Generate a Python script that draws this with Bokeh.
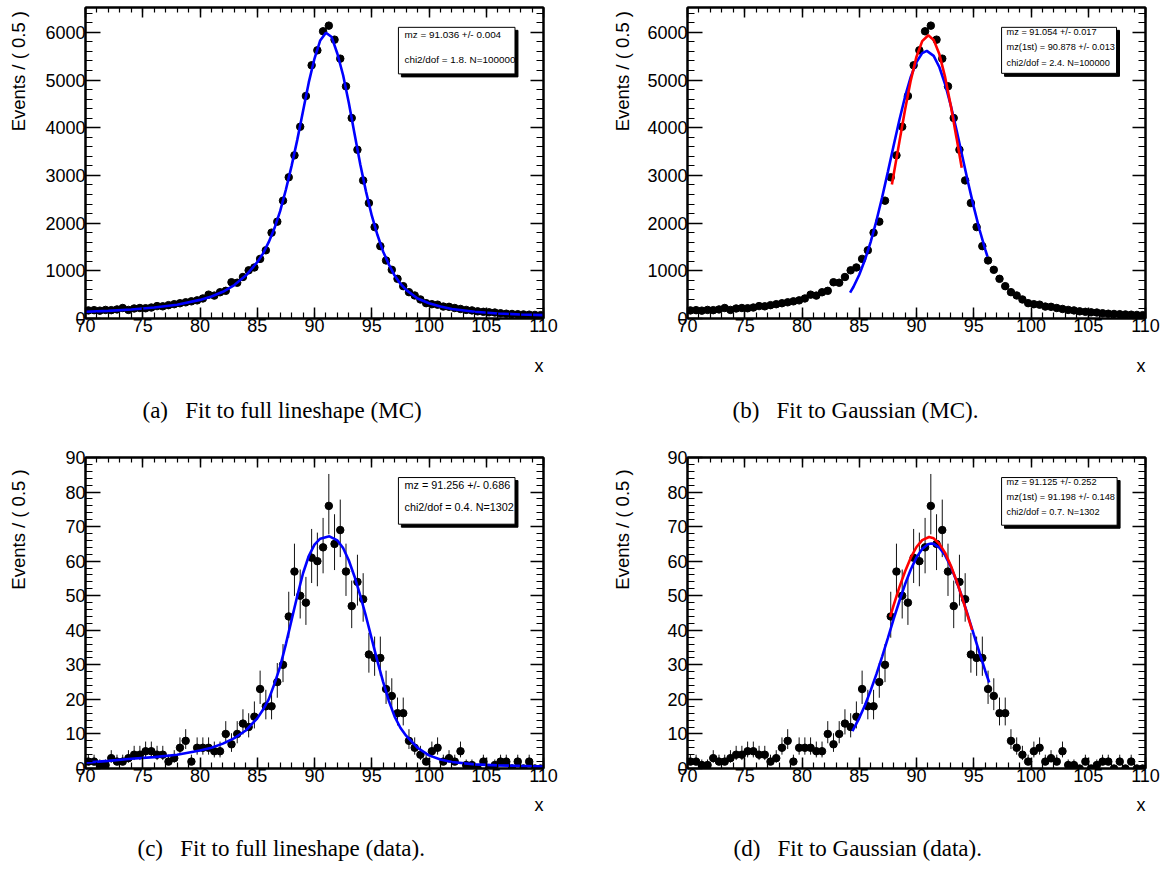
import math
import numpy as np
from bokeh.plotting import figure
from bokeh.models import Range1d, FixedTicker, LinearAxis, Title, CustomLabelingPolicy
from bokeh.layouts import column, row
from bokeh.embed import file_html
from bokeh.resources import INLINE
from bokeh.core.properties import value

# ---------------- data ----------------
bin_centers = [70.25 + 0.5 * i for i in range(80)]

mc_counts = [170, 175, 165, 180, 175, 190, 220, 180, 210, 220,
             215, 230, 260, 255, 280, 300, 320, 340, 360, 380,
             420, 500, 480, 550, 580, 760, 750, 870, 1010, 1070,
             1250, 1430, 1800, 2030, 2470, 2960, 3420, 4020, 4664, 5308,
             5622, 6021, 6140, 5846, 5448, 4867, 4203, 3538, 2895, 2420,
             1916, 1517, 1217, 1021, 832, 678, 552, 483, 399, 322,
             300, 290, 250, 245, 220, 200, 180, 170, 150, 140,
             130, 125, 110, 100, 95, 90, 85, 80, 75, 70]

data_counts = [2, 2, 1, 1, 3, 2, 2, 3, 4, 4,
               5, 5, 4, 4, 2, 3, 6, 8, 2, 6,
               6, 6, 5, 5, 10, 7, 10, 13, 12, 15,
               23, 18, 18, 25, 30, 44, 57, 50, 48, 61,
               60, 64, 76, 65, 69, 57, 47, 54, 49, 33,
               32, 32, 23, 21, 16, 16, 8, 6, 4, 2,
               5, 6, 2, 3, 2, 5, 1, 1, 0, 2,
               0, 1, 2, 2, 0, 2, 0, 2, 0, 0]

# full lineshape fit (MC)
fullfit_mc_x = [70, 72, 74, 76, 78, 80, 81, 82, 83, 84, 85, 85.5, 86, 86.5, 87, 87.5, 88, 88.5,
                89, 89.5, 90, 90.5, 91, 91.5, 92, 92.5, 93, 93.5, 94, 94.5, 95, 95.5, 96,
                96.5, 97, 97.5, 98, 99, 100, 101, 102, 104, 106, 108, 110]
fullfit_mc_y = [140, 160, 190, 230, 290, 390, 460, 560, 700, 900, 1180, 1360, 1600, 1890, 2250,
                2700, 3200, 3750, 4350, 4950, 5450, 5830, 5990, 5900, 5550, 5100, 4520, 3870,
                3230, 2660, 2160, 1750, 1400, 1130, 900, 730, 600, 420, 320, 250, 200, 140,
                105, 85, 70]

# gaussian fit, wide range (MC)
gaus_mc_x = [84.2, 84.5, 85, 85.5, 86, 86.5, 87, 87.5, 88, 88.5, 89, 89.5, 90, 90.5, 90.9,
             91.5, 92, 92.5, 93, 93.5, 94, 94.5, 95, 95.5, 96, 96.2]
gaus_mc_y = [542, 666, 917, 1231, 1608, 2049, 2543, 3074, 3622, 4157, 4650, 5066, 5378, 5563,
             5610, 5506, 5268, 4911, 4460, 3947, 3403, 2858, 2340, 1866, 1450, 1297]

# gaussian fit, first (narrow) range (MC)
gaus1_mc_x = [87.85, 88, 88.5, 89, 89.5, 90, 90.5, 91.03, 91.5, 92, 92.5, 93, 93.5, 93.95]
gaus1_mc_y = [2810, 3011, 3698, 4377, 4993, 5489, 5815, 5937, 5841, 5538, 5060, 4456, 3781, 3159]

# full lineshape fit (data)
fullfit_data_x = [70, 72, 74, 76, 78, 80, 81, 82, 83, 84, 85, 85.5, 86, 86.5, 87, 87.5, 88,
                  88.5, 89, 89.5, 90, 90.5, 91.3, 92, 92.5, 93, 93.5, 94, 94.5, 95, 95.5, 96,
                  96.5, 97, 97.5, 98, 99, 100, 101, 102, 104, 106, 110]
fullfit_data_y = [1.7, 2.2, 2.8, 3.3, 4.0, 5.2, 6.0, 7.2, 8.8, 11.0, 14.5, 17, 20, 24.5, 29.5,
                  36, 43, 50, 56.5, 61.5, 64.8, 66.5, 67.2, 66, 63.8, 60.2, 55.5, 50, 44, 37.5,
                  31, 25, 19.5, 15, 11.8, 9.5, 6, 3.8, 2.6, 1.9, 1.2, 0.9, 0.6]

# gaussian fit, wide range (data)
gaus_data_x = [84.4, 85, 85.5, 86, 86.5, 87, 87.5, 88, 88.5, 89, 89.5, 90, 90.5, 91, 91.3,
               91.5, 92, 92.5, 93, 93.5, 94, 94.5, 95, 95.5, 96, 96.35]
gaus_data_y = [10.8, 14.6, 18.3, 22.6, 27.3, 32.4, 37.7, 43.2, 48.4, 53.3, 57.6, 61.1, 63.5,
               64.9, 65.1, 65.0, 63.9, 61.7, 58.4, 54.2, 49.4, 44.2, 38.8, 33.5, 28.3, 24.9]

# gaussian fit, first range (data)
gaus1_data_x = [87.7, 88, 88.5, 89, 89.5, 90, 90.5, 91.1, 91.5, 92, 92.5, 93, 93.5, 94, 94.5, 94.85]
gaus1_data_y = [43.9, 47.2, 52.4, 57.0, 61.0, 64.1, 66.1, 67.0, 66.6, 65.0, 62.4, 58.7, 54.3,
                49.3, 43.9, 40.1]

stats_a = ["mz = 91.036 +/- 0.004", "chi2/dof = 1.8. N=100000"]
stats_b = ["mz = 91.054 +/- 0.017", "mz(1st) = 90.878 +/- 0.013", "chi2/dof = 2.4. N=100000"]
stats_c = ["mz = 91.256 +/- 0.686", "chi2/dof = 0.4. N=1302"]
stats_d = ["mz = 91.125 +/- 0.252", "mz(1st) = 91.198 +/- 0.148", "chi2/dof = 0.7. N=1302"]

captions = ["(a)\u00a0\u00a0\u00a0Fit to full lineshape (MC)",
            "(b)\u00a0\u00a0\u00a0Fit to Gaussian (MC).",
            "(c)\u00a0\u00a0\u00a0Fit to full lineshape (data).",
            "(d)\u00a0\u00a0\u00a0Fit to Gaussian (data)."]

y_title = "Events / ( 0.5 )"
x_title = "x"

SANS = "Liberation Sans"
SERIF = "Liberation Serif"

HIDE_JS = """
for (let i = 0; i < indices.size; i++) {
  if (typeof indices.unset === "function") { indices.unset(i) } else { indices.set(i, false) }
}
return indices
"""


def poisson_band(counts):
    n = np.asarray(counts, dtype=float)
    lo = n - (np.sqrt(n + 0.25) - 0.5)
    hi = n + (np.sqrt(n + 0.25) + 0.5)
    lo = np.where(n == 0, 0.0, lo)
    return lo.tolist(), hi.tolist()


def style_axis(ax, tick_in, minor_in, labels=True):
    ax.axis_line_width = 2
    ax.axis_line_color = "black"
    ax.major_tick_in = tick_in
    ax.major_tick_out = 0
    ax.minor_tick_in = minor_in
    ax.minor_tick_out = 0
    ax.major_tick_line_width = 1.5
    ax.minor_tick_line_width = 1.2
    ax.major_tick_line_color = "black"
    ax.minor_tick_line_color = "black"
    if labels:
        ax.major_label_text_font = SANS
        ax.major_label_text_font_size = "18px"
        ax.major_label_text_color = "black"
    else:
        ax.major_label_text_font_size = "0px"
        ax.major_label_standoff = 0
        ax.major_label_policy = CustomLabelingPolicy(code=HIDE_JS)


def title_strip(width, height, x_frac, top_px):
    """Narrow blank strip holding the top-aligned vertical y title (ROOT style)."""
    t = figure(width=width, height=height, x_range=Range1d(0, 1), y_range=Range1d(0, height),
               output_backend="svg", toolbar_location=None,
               x_axis_location=None, y_axis_location=None,
               min_border=0, min_border_left=0, min_border_right=0,
               min_border_top=0, min_border_bottom=0)
    t.xgrid.visible = False
    t.ygrid.visible = False
    t.grid.grid_line_color = None
    t.outline_line_color = None
    t.background_fill_color = "white"
    t.border_fill_color = "white"
    t.text(x=[x_frac], y=[height - top_px], text=[y_title], angle=math.pi / 2,
           text_align="right", text_baseline="middle", text_font=value(SANS),
           text_font_size=value("18.5px"), text_color="black")
    return t


def make_panel(width, height, ymax, yticks, yminor, counts, curves, box, stats, stat_size,
               caption, cap_offset, borders, x_standoff, cap_standoff):
    bl, br, bt, bb = borders
    p = figure(width=width, height=height, x_range=Range1d(70, 110), y_range=Range1d(0, ymax),
               output_backend="svg", toolbar_location=None,
               min_border_left=bl, min_border_right=br, min_border_top=bt, min_border_bottom=bb)
    p.xgrid.visible = False
    p.ygrid.visible = False
    p.background_fill_color = "white"
    p.border_fill_color = "white"
    p.outline_line_color = "black"
    p.outline_line_width = 2
    p.outline_line_alpha = 1.0

    xt = FixedTicker(ticks=list(range(70, 111, 5)), minor_ticks=list(range(70, 111, 1)))
    yt = FixedTicker(ticks=yticks, minor_ticks=yminor)

    xa = p.xaxis[0]
    xa.ticker = xt
    style_axis(xa, 11, 6)
    xa.major_label_standoff = 0
    ya = p.yaxis[0]
    ya.ticker = yt
    style_axis(ya, 15, 7)
    ya.major_label_standoff = 0

    top = LinearAxis(ticker=xt)
    style_axis(top, 10, 5, labels=False)
    p.add_layout(top, "above")
    rgt = LinearAxis(ticker=yt)
    style_axis(rgt, 13, 7, labels=False)
    p.add_layout(rgt, "right")

    # x title (right aligned)
    p.add_layout(Title(text=x_title, align="right", text_font=SANS, text_font_size="18px",
                       text_font_style="normal", text_color="black",
                       standoff=x_standoff), "below")
    # caption
    p.add_layout(Title(text=caption, align="left", offset=cap_offset, text_font=SERIF,
                       text_font_size="23px", text_font_style="normal", text_color="black",
                       standoff=cap_standoff), "below")

    # data points with error bars
    lo, hi = poisson_band(counts)
    p.segment(x0=bin_centers, y0=lo, x1=bin_centers, y1=hi, line_color="#111111", line_width=1)
    p.scatter(bin_centers, counts, size=7.5, marker="circle", fill_color="black", line_color="black")

    for xs, ys, col in curves:
        p.line(xs, ys, line_color=col, line_width=2.6)

    # stats box with shadow
    x0, x1, y0, y1, dx, dy, tx, tys = box
    p.quad(left=[x0 + dx], right=[x1 + dx], bottom=[y0 - dy], top=[y1 - dy],
           fill_color="black", line_color="black")
    p.quad(left=[x0], right=[x1], bottom=[y0], top=[y1],
           fill_color="white", line_color="black", line_width=1)
    p.text(x=[tx] * len(stats), y=tys, text=stats, text_font=value(SANS),
           text_font_size=value(stat_size), text_align="left", text_baseline="middle",
           text_color="black")
    return p


mc_yticks = [0, 1000, 2000, 3000, 4000, 5000, 6000]
mc_yminor = list(range(0, 6521, 200))
dt_yticks = [0, 10, 20, 30, 40, 50, 60, 70, 80, 90]
dt_yminor = list(range(0, 91, 2))

ta = title_strip(36, 440, 0.5, 5)
pa = make_panel(548, 440, 6520, mc_yticks, mc_yminor, mc_counts,
                [(fullfit_mc_x, fullfit_mc_y, "#0000ff")],
                (97.33, 107.51, 5128, 6104, 0.26, 63, 97.86, [5945, 5421]),
                stats_a, "9.9px", captions[0], 57, (49, 41, 7, 122), 39, 0)
tb = title_strip(56, 440, 0.673, 5)
pb = make_panel(529, 440, 6520, mc_yticks, mc_yminor, mc_counts,
                [(gaus_mc_x, gaus_mc_y, "#0000ff"), (gaus1_mc_x, gaus1_mc_y, "#ff0000")],
                (97.43, 107.47, 5140, 6104, 0.26, 63, 97.87, [6014, 5685, 5350]),
                stats_b, "9.2px", captions[1], 45, (47, 24, 7, 122), 39, 0)
tc = title_strip(36, 437, 0.5, 16.7)
pc = make_panel(548, 437, 90, dt_yticks, dt_yminor, data_counts,
                [(fullfit_data_x, fullfit_data_y, "#0000ff")],
                (97.33, 107.51, 70.7, 84.2, 0.26, 0.87, 97.86, [82.0, 75.6]),
                stats_c, "10.8px", captions[2], 52, (49, 41, 17, 109), 17, 20)
td = title_strip(56, 437, 0.673, 16.7)
pd_ = make_panel(529, 437, 90, dt_yticks, dt_yminor, data_counts,
                 [(gaus_data_x, gaus_data_y, "#0000ff"), (gaus1_data_x, gaus1_data_y, "#ff0000")],
                 (97.43, 107.52, 70.4, 84.2, 0.26, 0.87, 97.87, [82.8, 78.6, 74.1]),
                 stats_d, "9.2px", captions[3], 46, (47, 24, 17, 109), 17, 20)

layout = column(row(ta, pa, tb, pb), row(tc, pc, td, pd_))
open("out.html", "w").write(file_html(layout, INLINE))
